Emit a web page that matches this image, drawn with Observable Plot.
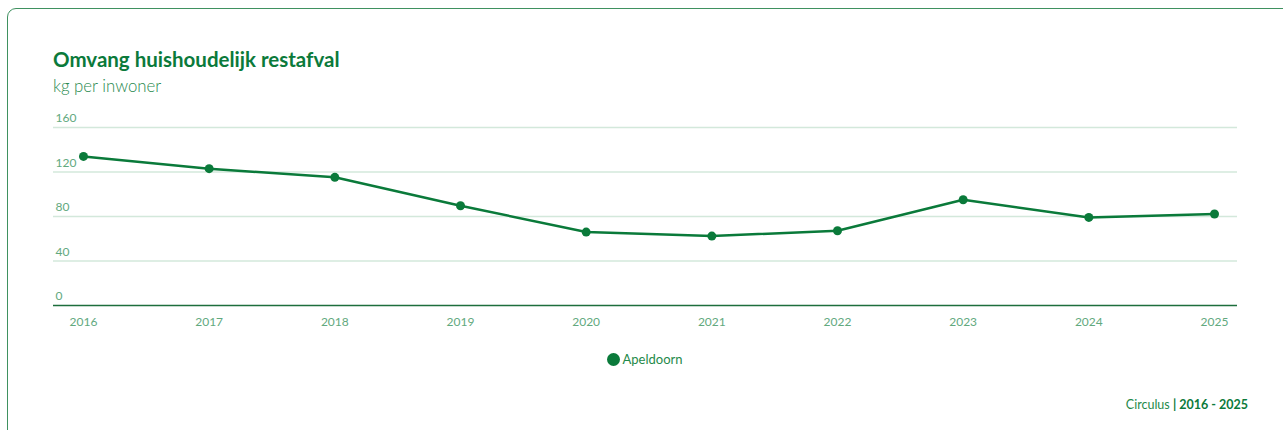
<!DOCTYPE html>
<html>
<head>
<meta charset="utf-8">
<script src="https://cdn.jsdelivr.net/npm/d3@7"></script>
<script src="https://cdn.jsdelivr.net/npm/@observablehq/plot@0.6"></script>
<style>
  html, body { margin: 0; padding: 0; background: #fff; width: 1283px; height: 430px; overflow: hidden; font-family: Lato, "Open Sans", sans-serif; }
  .card { position: absolute; left: 7px; top: 8px; width: 1300px; height: 460px; border: 1.5px solid #3f9160; border-radius: 9px; box-sizing: border-box; }
  .title { position: absolute; left: 53px; top: 47px; font-size: 20.5px; font-weight: 700; color: #0b7a3b; white-space: nowrap; }
  .subtitle { position: absolute; left: 53px; top: 75px; font-size: 16.8px; font-weight: 300; color: #2a8a50; white-space: nowrap; }
  #chart { position: absolute; left: 0; top: 110px; }
  .legend { position: absolute; left: 53px; width: 1184px; top: 351px; text-align: center; font-size: 13px; color: #1f8a4a; }
  .legend .sw { display: inline-block; width: 13px; height: 13px; border-radius: 50%; background: #0a7a3a; vertical-align: -2px; margin-right: 2px; }
  .caption { position: absolute; right: 35px; top: 397px; font-size: 12.5px; color: #1f8a4a; white-space: nowrap; }
  .caption b { color: #0b7a3b; }
</style>
</head>
<body>
<div class="card"></div>
<div class="title">Omvang huishoudelijk restafval</div>
<div class="subtitle">kg per inwoner</div>
<div id="chart"></div>
<div class="legend"><span class="sw"></span>Apeldoorn</div>
<div class="caption">Circulus <b>| 2016 - 2025</b></div>
<script>
const years = ["2016","2017","2018","2019","2020","2021","2022","2023","2024","2025"];
const apeldoorn = [134, 123, 115.2, 89.7, 66, 62.4, 67.2, 95.1, 79.2, 82.2];
const yTicks = [0, 40, 80, 120, 160];
const seriesName = "Apeldoorn";

const data = years.map((y, i) => ({year: y, value: apeldoorn[i], series: seriesName}));

const chart = Plot.plot({
  width: 1283,
  height: 230,
  marginLeft: 53,
  marginRight: 46,
  marginTop: 17,
  marginBottom: 35,
  style: {fontFamily: "Lato, 'Open Sans', sans-serif", background: "transparent"},
  x: {type: "point", domain: years, padding: 0, insetLeft: 30, insetRight: 23, round: false, axis: null},
  y: {domain: [0, 160], axis: null},
  marks: [
    Plot.ruleY(yTicks.filter(d => d > 0), {stroke: "#d3e8db", strokeWidth: 1.5}),
    Plot.ruleY([0], {stroke: "#1d6e3c", strokeWidth: 1.3}),
    Plot.text(yTicks, {y: d => d, text: d => String(d), frameAnchor: "left", textAnchor: "start", dx: 2, dy: -9, fill: "#62a97e", fontSize: 12}),
    Plot.axisX({domain: years, label: null, tickSize: 0, tickPadding: 12, fontSize: 12, color: "#62a97e"}),
    Plot.line(data, {x: "year", y: "value", stroke: "#0a7a3a", strokeWidth: 2.5}),
    Plot.dot(data, {x: "year", y: "value", r: 4.5, fill: "#0a7a3a"})
  ]
});
document.getElementById("chart").appendChild(chart);
</script>
</body>
</html>
